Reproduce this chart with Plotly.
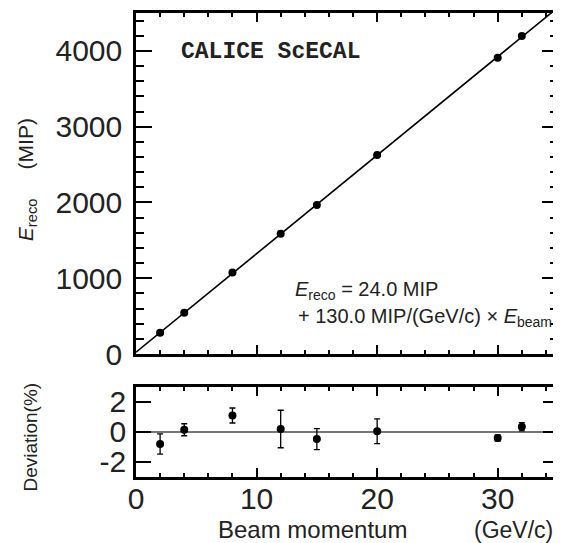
import plotly.graph_objects as go

# Data
momentum = [2, 4, 8, 12, 15, 20, 30, 32]
e_reco = [282, 545, 1076, 1588, 1965, 2626, 3908, 4198]
deviation = [-0.8, 0.15, 1.1, 0.2, -0.47, 0.05, -0.4, 0.35]
dev_err = [0.67, 0.4, 0.5, 1.25, 0.7, 0.82, 0.2, 0.28]
dev_ticks = [-2, 0, 2]
dev_ticklabels = ["-2", "0", "2"]
fit_offset = 24.0
fit_slope = 130.0
fit_x = [0, 35]
fit_y = [fit_offset + fit_slope * x for x in fit_x]

FONT = "Liberation Sans, Arial, sans-serif"
TXT = "#222222"
NB = "\u00a0"

fig = go.Figure()
fig.add_trace(go.Scatter(x=fit_x, y=fit_y, mode="lines",
                         line=dict(color="black", width=1.6),
                         xaxis="x", yaxis="y", showlegend=False))
fig.add_trace(go.Scatter(x=momentum, y=e_reco, mode="markers",
                         marker=dict(color="black", size=8),
                         xaxis="x", yaxis="y", showlegend=False))
fig.add_trace(go.Scatter(x=[0, 35], y=[0, 0], mode="lines",
                         line=dict(color="#777777", width=1.8),
                         xaxis="x2", yaxis="y2", showlegend=False))
fig.add_trace(go.Scatter(x=momentum, y=deviation, mode="markers",
                         marker=dict(color="black", size=8),
                         error_y=dict(type="data", array=dev_err, color="black",
                                      thickness=1.3, width=3),
                         xaxis="x2", yaxis="y2", showlegend=False))

base = dict(showline=True, linecolor="black", linewidth=2.5, mirror="ticks",
            ticks="inside", tickcolor="black", tickwidth=2,
            showgrid=False, zeroline=False, automargin=False,
            tickfont=dict(family=FONT, size=30, color=TXT))

xminor = dict(dtick=2, ticks="inside", ticklen=4, tickcolor="black", tickwidth=2)

fig.update_layout(
    width=553, height=535,
    margin=dict(l=128, r=3, t=5, b=66),
    paper_bgcolor="white", plot_bgcolor="white",
    xaxis=dict(domain=[0, 1], range=[0, 35], anchor="y", showticklabels=False,
               dtick=10, ticklen=9, minor=xminor, **base),
    yaxis=dict(domain=[0.265, 1], range=[0, 4500], anchor="x", dtick=1000, ticklen=16,
               ticklabelstandoff=5,
               minor=dict(dtick=200, ticks="inside", ticklen=8, tickcolor="black", tickwidth=2),
               **base),
    xaxis2=dict(domain=[0, 1], range=[0, 35], anchor="y2", dtick=10, ticklen=9,
                ticklabelstandoff=-7, minor=xminor, **base),
    yaxis2=dict(domain=[0, 0.194], range=[-3, 3], anchor="x2", tickmode="array",
                tickvals=dev_ticks, ticktext=dev_ticklabels,
                ticklen=15, ticklabelstandoff=1, **base),
)

fig.add_annotation(text="<i>E</i><sub>reco</sub>" + NB * 5 + "(MIP)", xref="paper", yref="paper",
                   x=-0.258, y=0.640, textangle=-90, showarrow=False,
                   font=dict(family=FONT, size=21, color=TXT),
                   xanchor="center", yanchor="middle")
fig.add_annotation(text="Deviation(%)", xref="paper", yref="paper",
                   x=-0.25, y=0.086, textangle=-90, showarrow=False,
                   font=dict(family=FONT, size=19, color=TXT),
                   xanchor="center", yanchor="middle")
fig.add_annotation(text="Beam momentum", xref="paper", yref="paper",
                   x=0.19, y=-0.114, showarrow=False,
                   font=dict(family=FONT, size=24, color=TXT),
                   xanchor="left", yanchor="middle")
fig.add_annotation(text="(GeV/c)", xref="paper", yref="paper",
                   x=0.797, y=-0.114, showarrow=False,
                   font=dict(family=FONT, size=23, color=TXT),
                   xanchor="left", yanchor="middle")
fig.add_annotation(text="<b>CALICE ScECAL</b>", xref="x", yref="y",
                   x=3.6, y=3985, showarrow=False,
                   font=dict(family="Liberation Mono, Courier New, monospace", size=23, color=TXT),
                   xanchor="left", yanchor="middle")
fig.add_annotation(text="<i>E</i><sub>reco</sub> = 24.0 MIP", xref="x", yref="y",
                   x=13.0, y=845, showarrow=False,
                   font=dict(family=FONT, size=20, color=TXT),
                   xanchor="left", yanchor="middle")
fig.add_annotation(text="+ 130.0 MIP/(GeV/c) × <i>E</i><sub>beam</sub>", xref="x", yref="y",
                   x=13.25, y=488, showarrow=False,
                   font=dict(family=FONT, size=20, color=TXT),
                   xanchor="left", yanchor="middle")

fig.write_html("out.html")
